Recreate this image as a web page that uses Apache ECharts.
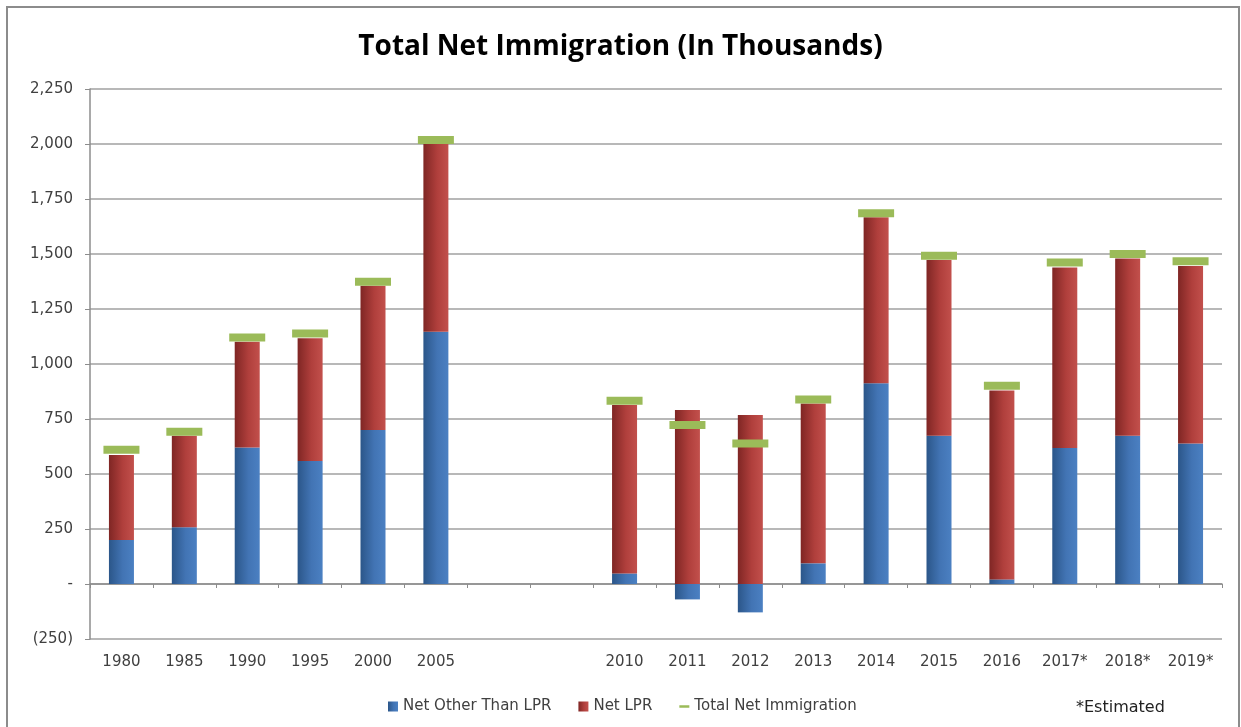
<!DOCTYPE html>
<html>
<head>
<meta charset="utf-8">
<script src="https://cdn.jsdelivr.net/npm/echarts@6/dist/echarts.min.js"></script>
<style>
html,body{margin:0;padding:0;background:#fff;}
#chart{width:1241px;height:727px;}
</style>
</head>
<body>
<div id="chart"></div>
<script>
const categories = ['1980','1985','1990','1995','2000','2005','',' ','2010','2011','2012','2013','2014','2015','2016','2017*','2018*','2019*'];
const netOtherThanLPR = [200, 258, 621, 559, 700, 1147, null, null, 48, -70, -129, 94, 912, 674, 21, 618, 674, 639];
const netLPR = [386, 416, 480, 558, 656, 853, null, null, 766, 791, 768, 727, 755, 799, 858, 821, 805, 806];
const totalNetImmigration = [610, 692, 1121, 1139, 1374, 2018, null, null, 833, 723, 639, 839, 1685, 1492, 901, 1461, 1500, 1467];
const yTicks = { min: -250, max: 2250, interval: 250 };

const chart = echarts.init(document.getElementById('chart'));
const labelFont = '"DejaVu Sans", sans-serif';
function grad(c0, c1, c2) {
  return new echarts.graphic.LinearGradient(0, 0, 1, 0, [
    { offset: 0, color: c0 }, { offset: 0.55, color: c1 }, { offset: 1, color: c2 }
  ]);
}
function fmt(v) {
  if (v === 0) return '-';
  const s = Math.abs(v).toLocaleString('en-US');
  return v < 0 ? '(' + s + ')' : s;
}
chart.setOption({
  animation: false,
  backgroundColor: '#fff',
  title: {
    text: 'Total Net Immigration (In Thousands)',
    left: 'center', top: 28,
    textStyle: { fontFamily: '"Open Sans", sans-serif', fontSize: 28, fontWeight: 'bold', color: '#000' }
  },
  grid: { left: 90, right: 19, top: 89, bottom: 88, containLabel: false },
  legend: {
    left: 383, top: 694, itemWidth: 10, itemHeight: 10, itemGap: 27,
    textStyle: { fontFamily: labelFont, fontSize: 15, color: '#404040' },
    data: [
      { name: 'Net Other Than LPR', icon: 'rect' },
      { name: 'Net LPR', icon: 'rect' },
      { name: 'Total Net Immigration', icon: 'path://M0,0H12V3H0Z', itemStyle: { opacity: 1 } }
    ]
  },
  graphic: [
    { type: 'rect', shape: { x: 7, y: 7, width: 1232, height: 760 },
      style: { fill: 'none', stroke: '#8c8c8c', lineWidth: 2 }, silent: true },
    { type: 'text', left: 1076, top: 700,
      style: { text: '*Estimated', fontFamily: labelFont, fontSize: 16, fill: '#222' } }
  ],
  xAxis: {
    type: 'category', data: categories,
    axisLine: { onZero: true, lineStyle: { color: '#8c8c8c', width: 1.5 } },
    axisTick: { show: true, alignWithLabel: false, length: 4, lineStyle: { color: '#8c8c8c' } },
    axisLabel: { margin: 16, fontFamily: labelFont, fontSize: 15, color: '#404040', interval: 0 }
  },
  yAxis: {
    type: 'value', min: yTicks.min, max: yTicks.max, interval: yTicks.interval,
    axisLine: { show: true, lineStyle: { color: '#8c8c8c', width: 1.5 } },
    axisTick: { show: true, length: 5, lineStyle: { color: '#8c8c8c' } },
    splitLine: { lineStyle: { color: '#a0a0a0', width: 1.5 } },
    axisLabel: { margin: 17, fontFamily: labelFont, fontSize: 15, color: '#404040', formatter: fmt }
  },
  series: [
    { name: 'Net Other Than LPR', type: 'bar', stack: 'a', barWidth: 25,
      data: netOtherThanLPR,
      itemStyle: { color: grad('#2b5689', '#4274b4', '#4b80c2') } },
    { name: 'Net LPR', type: 'bar', stack: 'a', barWidth: 25,
      data: netLPR,
      itemStyle: { color: grad('#7f2624', '#b03f3c', '#c2504c') } },
    { name: 'Total Net Immigration', type: 'scatter', symbol: 'rect', symbolSize: [36, 8], z: 5,
      data: totalNetImmigration,
      itemStyle: { color: '#9bbb59', opacity: 1 } }
  ]
});
</script>
</body>
</html>
